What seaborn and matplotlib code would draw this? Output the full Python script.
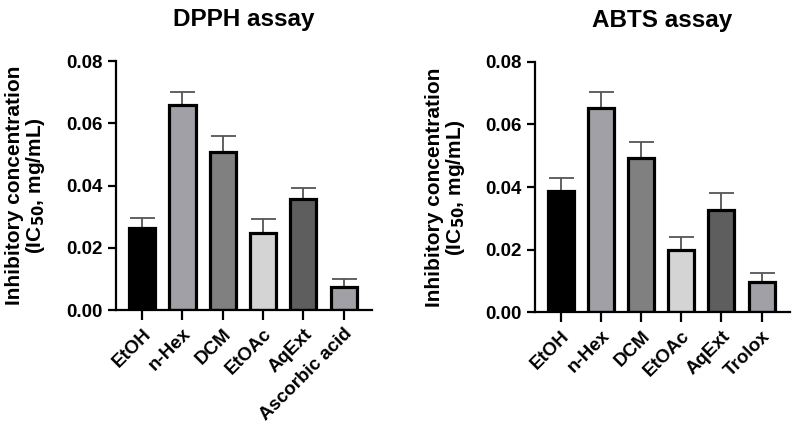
import numpy as np
import matplotlib
matplotlib.use("Agg")
import matplotlib.pyplot as plt
import pandas as pd
import seaborn as sns

# values (mean and upper error, mg/mL)
extracts = ["EtOH", "n-Hex", "DCM", "EtOAc", "AqExt"]
dpph_labels = extracts + ["Ascorbic acid"]
abts_labels = extracts + ["Trolox"]

dpph_mean = [0.0265, 0.0658, 0.0508, 0.0248, 0.0358, 0.0074]
dpph_sd = [0.0032, 0.0043, 0.0050, 0.0046, 0.0035, 0.0027]
abts_mean = [0.0387, 0.0652, 0.0492, 0.0200, 0.0327, 0.0097]
abts_sd = [0.0041, 0.0053, 0.0053, 0.0040, 0.0055, 0.0027]

bar_colors = ["#000000", "#a0a0a6", "#808080", "#d4d4d4", "#5e5e5e", "#a0a0a6"]

sns.set_theme(style="ticks")
plt.rcParams["font.family"] = ["Liberation Sans", "DejaVu Sans"]
plt.rcParams["font.weight"] = "bold"
plt.rcParams["text.color"] = "black"
plt.rcParams["xtick.color"] = "black"
plt.rcParams["ytick.color"] = "black"


def panel(ax, labels, mean, sd, title):
    df = pd.DataFrame({"sample": labels, "ic50": mean})
    sns.barplot(data=df, x="sample", y="ic50", hue="sample", palette=bar_colors,
                legend=False, width=0.65, edgecolor="black", linewidth=2.3,
                saturation=1, ax=ax, zorder=2)
    ax.errorbar(np.arange(len(mean)), mean, yerr=[np.zeros(len(sd)), sd],
                fmt="none", ecolor="#555555", elinewidth=1.3, capsize=9,
                capthick=1.3, zorder=1)
    ax.set_xlim(-0.65, len(mean) - 0.3)
    ax.set_ylim(0, 0.08)
    ax.set_yticks([0, 0.02, 0.04, 0.06, 0.08])
    ax.set_yticklabels(["0.00", "0.02", "0.04", "0.06", "0.08"])
    ax.set_xlabel("")
    ax.set_ylabel("")
    ax.set_xticks(range(len(labels)))
    ax.set_xticklabels(labels, rotation=45, ha="right", rotation_mode="anchor")
    ax.tick_params(axis="both", labelsize=13.5, width=1.6, length=6,
                   color="black", labelcolor="black")
    ax.tick_params(axis="x", length=7, pad=4)
    for s in ["left", "bottom"]:
        ax.spines[s].set_linewidth(1.6)
        ax.spines[s].set_color("black")
    sns.despine(ax=ax)
    ax.set_title(title, fontsize=17.5, fontweight="bold", pad=25, color="black")
    ax.text(-0.35, 0.5, "Inhibitory concentration\n(IC$_{\\mathbf{50}}$, mg/mL)",
            transform=ax.transAxes, rotation=90, ha="center", va="center",
            fontsize=15, fontweight="bold", linespacing=1.0, color="black")


fig = plt.figure(figsize=(7.96, 4.30), dpi=100)
ax1 = fig.add_axes([0.1457, 0.279, 0.3215, 0.579])
ax2 = fig.add_axes([0.672, 0.274, 0.320, 0.582])

panel(ax1, dpph_labels, dpph_mean, dpph_sd, "DPPH assay")
panel(ax2, abts_labels, abts_mean, abts_sd, "ABTS assay")

fig.savefig("out.png", dpi=100)
